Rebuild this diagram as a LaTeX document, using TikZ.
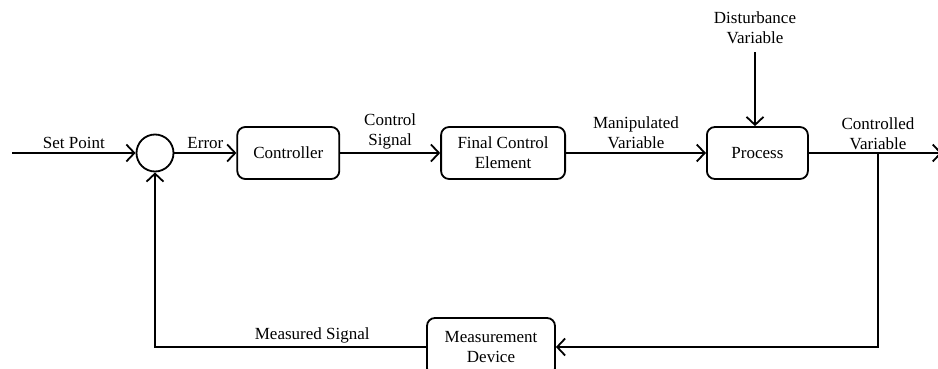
\documentclass[tikz,border=0pt]{standalone}
\usepackage{fontspec}
\setmainfont{Liberation Serif}
\usetikzlibrary{arrows.meta,positioning,calc}
\tikzstyle{block} = [rectangle, draw, line width=1.8pt, rounded corners=8pt, align=center, minimum height=52pt, inner sep=2pt]
\tikzstyle{sumpoint} = [circle, draw, line width=1.8pt, minimum size=37pt, inner sep=0pt]
\tikzstyle{signal} = [-{Straight Barb[length=8pt, width=17pt, line width=1.8pt]}, line width=1.8pt]
\tikzstyle{tag} = [align=center, inner sep=3pt]

\begin{document}
\begin{tikzpicture}[x=1pt, y=-1pt, font=\fontsize{17}{20}\selectfont]
\useasboundingbox (0,0) rectangle (938,369);

% Summing point and forward path
\node[sumpoint] (sum) at (155,153) {};
\node[block, minimum width=102pt, right=62pt of sum] (controller) {Controller};
\node[block, minimum width=124pt, right=100pt of controller] (final) {Final Control\\Element};
\node[block, minimum width=101pt, right=140pt of final] (process) {Process};

% Feedback element
\node[block, minimum width=128pt, minimum height=58pt] (measure) at (491,347) {Measurement\\Device};

% Free ends
\coordinate (input) at (12,153);
\coordinate (output) at (942,153);
\coordinate (branch) at (878,153);
\node[tag] (disturb) at (755,28) {Disturbance\\Variable};

% Arrows
\draw[signal] (input) -- node[tag, above]{Set Point} (sum);
\draw[signal] (sum) -- node[tag, above]{Error} (controller);
\draw[signal] (controller) -- node[tag, above]{Control\\Signal} (final);
\draw[signal] (final) -- node[tag, above]{Manipulated\\Variable} (process);
\draw[signal] ($(disturb.south)+(0,5)$) -- (disturb.south |- process.north);
\draw[signal] (process) -- (output);
\node[tag, above] at (branch) {Controlled\\Variable};
\draw[signal] (branch) |- (measure);
\draw[signal] (measure) -| node[tag, above, pos=0.21]{Measured Signal} (sum);

\end{tikzpicture}
\end{document}
